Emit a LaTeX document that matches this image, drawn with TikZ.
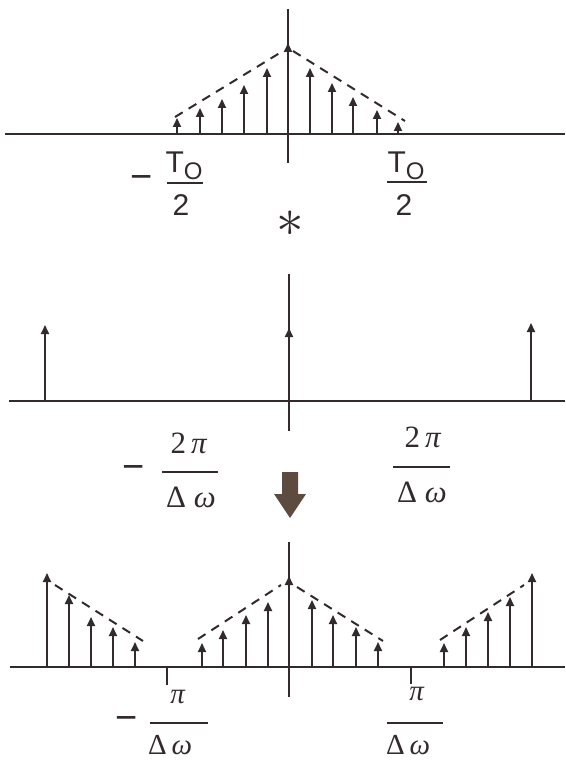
\documentclass[tikz,border=0pt]{standalone}
\usepackage{fontspec}
\setmainfont{Liberation Serif}
\newfontfamily\sfl{Liberation Sans}
\usetikzlibrary{arrows.meta}
\definecolor{ink}{HTML}{332B2B}
\definecolor{arrowfill}{HTML}{5E4B40}
\begin{document}
\begin{tikzpicture}[x=1pt,y=-1pt,
  axis/.style={ink, line width=1.9pt},
  imp/.style={ink, line width=2pt, -{Triangle[length=9pt,width=8pt]}},
  env/.style={ink, line width=2pt, dash pattern=on 9pt off 7pt},
  fracbar/.style={ink, line width=1.8pt},
  sflab/.style={font=\sfl\fontsize{30}{30}\selectfont, inner sep=0pt, anchor=base, text=ink},
  serlab/.style={font=\fontsize{29}{29}\selectfont, inner sep=0pt, anchor=base, text=ink},
  serbig/.style={font=\fontsize{31}{31}\selectfont, inner sep=0pt, anchor=base, text=ink},
  minuslab/.style={font=\sfl\fontsize{38}{38}\selectfont, inner sep=0pt, anchor=center, text=ink},
]
\useasboundingbox (0,0) rectangle (565,762);

% ---------- top panel ----------
\draw[axis] (5,134) -- (565,134);
\draw[axis] (288,9) -- (288,163);
\foreach \x/\t in {177/118, 200/108, 222/99, 244/85, 267/68, 288/43, 310/68, 332/83, 353/97, 377/110, 398/122}
  \draw[imp] (\x,134) -- (\x,\t);
\draw[env] (175,117) -- (283,51);
\draw[env] (293,51) -- (405,121);

\node[minuslab] (tlm) at (142,183) {−};
\node[sflab] (tlnum) at (184,172) {T\raisebox{-7pt}{\fontsize{24}{24}\selectfont O}};
\draw[fracbar] (167,183) -- (203,183);
\node[sflab] (tlden) at (181,215) {2};

\node[sflab] (trnum) at (406,172) {T\raisebox{-7pt}{\fontsize{24}{24}\selectfont O}};
\draw[fracbar] (387,182) -- (427,182);
\node[sflab] (trden) at (404,215) {2};

\node[inner sep=0pt, scale=5.5, text=ink] (conv) at (290,224) {$\ast$};

% ---------- middle panel ----------
\draw[axis] (9,401) -- (565,401);
\draw[axis] (289,274) -- (289,431);
\foreach \x/\t in {45/325, 289/328, 531/323}
  \draw[imp] (\x,401) -- (\x,\t);

\node[minuslab] (mlm) at (134,472) {−};
\node[serbig] (mlnum) at (189,453) {2\,\textit{π}};
\draw[fracbar] (162,472) -- (218,472);
\node[serbig] (mlden) at (191,507) {Δ \textit{ω}};

\node[serbig] (mrnum) at (423,447) {2\,\textit{π}};
\draw[fracbar] (393,467) -- (450,467);
\node[serbig] (mrden) at (422,502) {Δ \textit{ω}};

\fill[arrowfill] (282,472) -- (298,472) -- (298,494) -- (306,494) -- (290,518) -- (274,494) -- (282,494) -- cycle;

% ---------- bottom panel ----------
\draw[axis] (10,667) -- (565,667);
\draw[axis] (289,542) -- (289,697);
\draw[axis] (167,667) -- (167,685);
\draw[axis] (411,667) -- (411,684);
\foreach \x/\t in {47/573, 69/595, 91/617, 113/627, 135/642,
                   202/643, 223/630, 246/615, 268/602, 289/576, 312/600, 333/615, 356/627, 378/642,
                   444/643, 466/627, 488/612, 510/597, 532/573}
  \draw[imp] (\x,667) -- (\x,\t);
\draw[env] (55,585) -- (143,641);
\draw[env] (198,639) -- (281,585);
\draw[env] (297,587) -- (383,641);
\draw[env] (440,640) -- (524,585);

\node[serlab] (blnum) at (178,703) {\textit{π}};
\node[minuslab] (blm) at (127,723) {−};
\draw[fracbar] (150,723) -- (208,723);
\node[serlab] (blden) at (170,754) {Δ\,\textit{ω}};

\node[serlab] (brnum) at (417,700) {\textit{π}};
\draw[fracbar] (387,723) -- (443,723);
\node[serlab] (brden) at (408,754) {Δ\,\textit{ω}};
\end{tikzpicture}
\end{document}
